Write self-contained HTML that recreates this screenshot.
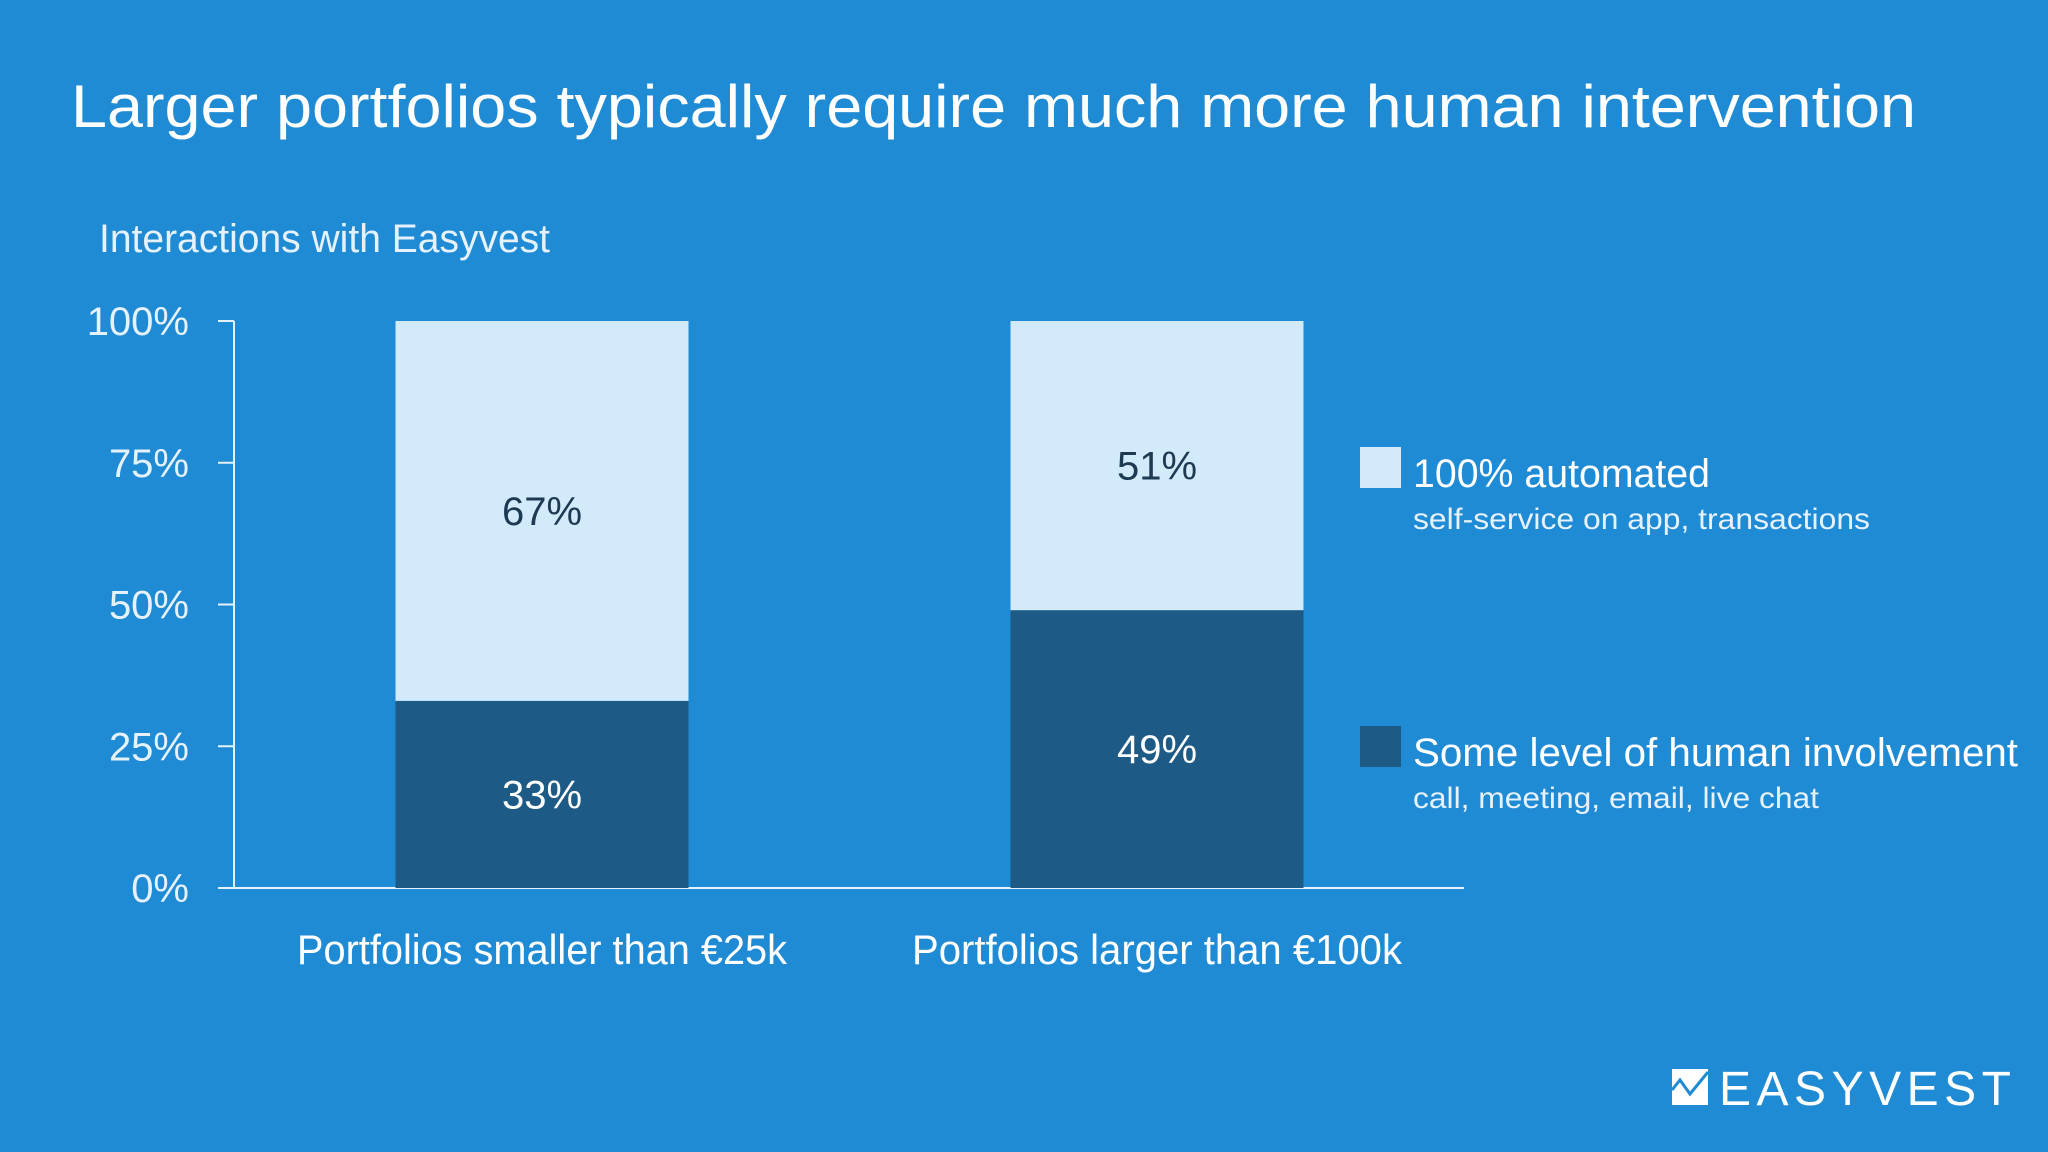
<!DOCTYPE html>
<html><head><meta charset="utf-8"><style>
html,body{margin:0;padding:0;background:#1F8BD4;}
svg{display:block;font-family:"Liberation Sans",sans-serif;}
</style></head><body>
<svg id="chart" width="2048" height="1152" viewBox="0 0 2048 1152">
<rect x="0" y="0" width="2048" height="1152" fill="#1F8BD4"/>
<text x="71" y="127" font-size="60" fill="#fff" textLength="1845" lengthAdjust="spacingAndGlyphs">Larger portfolios typically require much more human intervention</text>
<text x="99" y="252" font-size="40" fill="#E6F2FB" textLength="451" lengthAdjust="spacingAndGlyphs">Interactions with Easyvest</text>
<g id="axes"></g>
<g id="bars"></g>
<rect x="1360" y="447" width="41" height="41" fill="#D2EAF9"/>
<text x="1413" y="487" font-size="40" fill="#fff" textLength="297" lengthAdjust="spacingAndGlyphs">100% automated</text>
<text x="1413" y="529" font-size="30" fill="#E6F2FB" textLength="457" lengthAdjust="spacingAndGlyphs">self-service on app, transactions</text>
<rect x="1360" y="726" width="41" height="41" fill="#1D5A85"/>
<text x="1413" y="766" font-size="40" fill="#fff" textLength="605" lengthAdjust="spacingAndGlyphs">Some level of human involvement</text>
<text x="1413" y="808" font-size="30" fill="#E6F2FB" textLength="406" lengthAdjust="spacingAndGlyphs">call, meeting, email, live chat</text>
<g>
<rect x="1672" y="1069" width="36" height="36" fill="#fff"/>
<polyline points="1672,1090 1680,1080 1690,1094 1708,1072" fill="none" stroke="#1F8BD4" stroke-width="3"/>
<text x="1719" y="1105" font-size="48" fill="#fff" textLength="292" lengthAdjust="spacing">EASYVEST</text>
</g>
</svg>
<script>
const categories = ["Portfolios smaller than €25k", "Portfolios larger than €100k"];
const humanValues = [33, 49];
const automatedValues = [67, 51];
const tickValues = [0, 25, 50, 75, 100];
const tickLabels = ["0%", "25%", "50%", "75%", "100%"];

const NS = "http://www.w3.org/2000/svg";
const y0 = 888, y1 = 321, axisX = 234, axisEnd = 1464;
const barW = 293, centers = [542, 1157];
function yScale(v){ return y0 - (v/100)*(y0-y1); }
function mk(tag, attrs, parent, text){
  const e = document.createElementNS(NS, tag);
  for (const k in attrs) e.setAttribute(k, attrs[k]);
  if (text !== undefined) e.textContent = text;
  parent.appendChild(e); return e;
}
const axes = document.getElementById('axes');
const bars = document.getElementById('bars');
let a = mk('line', {x1:axisX, y1:yScale(100), x2:axisX, y2:y0, stroke:'#E6F2FB', 'stroke-width':2}, axes);


a = mk('line', {x1:218, y1:y0, x2:axisEnd, y2:y0, stroke:'#E6F2FB', 'stroke-width':2}, axes);


tickValues.forEach((v,i)=>{
  const t = mk('line', {x1:218, y1:yScale(v), x2:axisX, y2:yScale(v), stroke:'#E6F2FB', 'stroke-width':2}, axes);
  
  
  const l = mk('text', {x:189, y:yScale(v)+14, 'font-size':40, fill:'#E6F2FB', 'text-anchor':'end'}, axes, tickLabels[i]);
  
  
});
categories.forEach((c,i)=>{
  const cx = centers[i], x = cx - barW/2;
  const h = humanValues[i], au = automatedValues[i];
  const r1 = mk('rect', {x:x, y:yScale(h), width:barW, height:y0-yScale(h), fill:'#1D5A85'}, bars);
  
  
  const r2 = mk('rect', {x:x, y:yScale(h+au), width:barW, height:yScale(h)-yScale(h+au), fill:'#D2EAF9'}, bars);
  
  
  const t1 = mk('text', {x:cx, y:(yScale(h)+y0)/2+14, 'font-size':40, fill:'#fff', 'text-anchor':'middle'}, bars, h + '%');
  
  
  const t2 = mk('text', {x:cx, y:(yScale(h)+yScale(h+au))/2+14, 'font-size':40, fill:'#1E3A52', 'text-anchor':'middle'}, bars, au + '%');
  
  
  const cl = mk('text', {x:cx, y:964, 'font-size':42, fill:'#fff', 'text-anchor':'middle', textLength:490, lengthAdjust:'spacingAndGlyphs'}, bars, c);
  
  
});
</script>
</body></html>
